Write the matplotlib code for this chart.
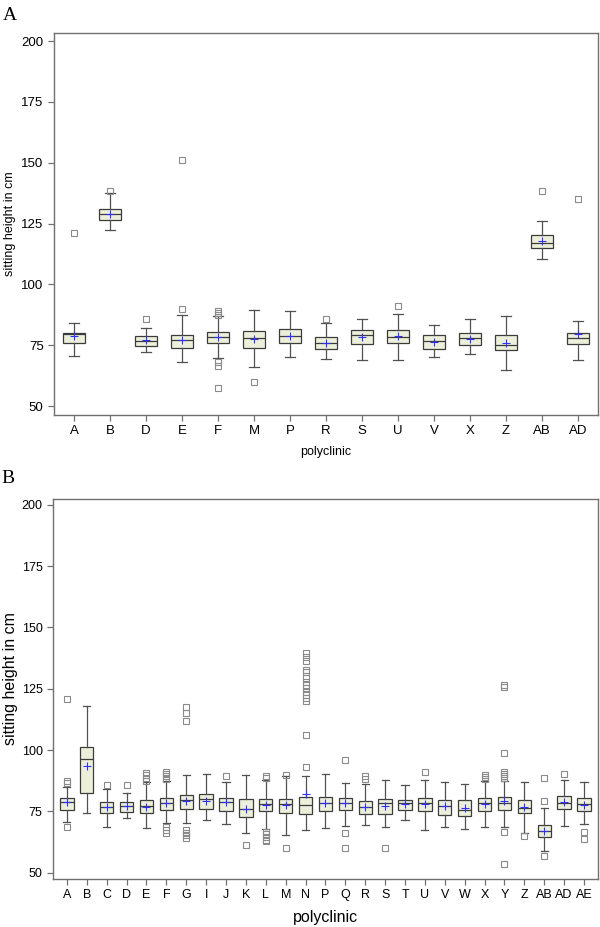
import matplotlib
matplotlib.use('Agg')
import matplotlib.pyplot as plt

# Panel A - polyclinics
cats_a = ['A', 'B', 'D', 'E', 'F', 'M', 'P', 'R', 'S', 'U', 'V', 'X', 'Z', 'AB', 'AD']
q1_a = [75.9, 126.4, 74.6, 73.7, 75.9, 73.8, 75.7, 73.5, 75.3, 75.9, 73.4, 75.0, 73.0, 114.9, 75.3]
med_a = [79.6, 128.8, 76.8, 77.1, 78.3, 77.9, 78.9, 75.9, 79.2, 78.5, 76.8, 77.9, 75.0, 116.9, 78.1]
q3_a = [80.0, 130.9, 78.6, 79.3, 80.4, 80.9, 81.8, 78.2, 81.1, 81.3, 79.0, 80.0, 79.0, 120.2, 80.0]
lo_a = [70.4, 122.4, 72.0, 67.9, 69.8, 66.0, 70.0, 69.4, 68.9, 68.9, 70.3, 71.3, 64.9, 110.4, 68.9]
hi_a = [84.3, 137.4, 81.9, 87.6, 87.1, 89.6, 88.9, 84.3, 85.9, 87.9, 83.3, 85.9, 87.0, 126.2, 84.9]
mean_a = [78.9, 129.0, 77.0, 77.2, 78.3, 77.6, 78.6, 75.9, 78.5, 78.6, 76.5, 77.6, 76.1, 117.7, 79.4]
fliers_a = [
    [120.9],
    [138.3],
    [85.9],
    [90.0, 151.3],
    [89.1, 88.2, 87.5, 68.1, 66.3, 57.3],
    [59.9],
    [],
    [85.7],
    [],
    [90.9],
    [],
    [],
    [],
    [138.3],
    [134.9],
]

# Panel B - polyclinics
cats_b = ['A', 'B', 'C', 'D', 'E', 'F', 'G', 'I', 'J', 'K', 'L', 'M', 'N', 'P',
          'Q', 'R', 'S', 'T', 'U', 'V', 'W', 'X', 'Y', 'Z', 'AB', 'AD', 'AE']
q1_b = [75.7, 82.6, 74.3, 74.9, 74.3, 75.7, 76.0, 76.0, 75.3, 72.6, 75.3, 74.2, 74.1, 75.3,
        75.7, 74.1, 74.1, 75.4, 75.2, 73.4, 73.0, 75.3, 75.7, 74.2, 64.7, 76.1, 75.3]
med_b = [78.7, 96.2, 76.9, 77.2, 77.2, 78.3, 79.6, 79.9, 78.8, 76.1, 78.0, 78.0, 77.6, 78.4,
         78.4, 76.9, 78.2, 78.2, 78.2, 77.2, 75.6, 78.2, 78.4, 76.5, 67.0, 78.3, 77.9]
q3_b = [80.3, 101.1, 78.8, 78.8, 79.5, 80.6, 81.6, 82.2, 80.5, 80.1, 80.2, 80.2, 80.7, 81.0,
        80.5, 79.0, 80.2, 79.8, 80.5, 79.6, 79.6, 80.3, 80.7, 79.5, 69.3, 81.1, 80.5]
lo_b = [70.5, 74.2, 68.4, 72.2, 68.0, 70.3, 70.3, 71.6, 69.7, 66.0, 67.7, 65.2, 67.3, 68.0,
        69.0, 69.4, 68.4, 71.4, 67.3, 68.6, 67.7, 68.6, 68.6, 66.0, 58.7, 69.2, 69.9]
hi_b = [84.8, 118.0, 84.0, 82.4, 87.0, 87.5, 89.8, 90.4, 87.1, 90.0, 87.7, 89.2, 89.3, 90.1,
        86.6, 86.2, 87.9, 85.8, 87.9, 87.1, 86.2, 87.3, 87.5, 87.1, 76.4, 87.9, 87.1]
mean_b = [78.6, 93.5, 76.7, 77.2, 76.9, 78.3, 79.4, 79.4, 78.6, 76.1, 77.5, 77.5, 82.2, 78.4,
          78.2, 76.9, 77.2, 77.9, 77.9, 77.1, 76.5, 77.9, 79.1, 76.8, 67.1, 78.8, 77.7]
fliers_b = [
    [121.0, 87.3, 86.4, 68.4],
    [],
    [85.8],
    [85.9],
    [90.7, 89.7, 88.5, 87.4],
    [91.2, 90.3, 89.2, 88.1, 68.5, 67.3, 66.2],
    [117.7, 114.9, 112.0, 67.4, 66.3, 65.2, 64.1],
    [],
    [89.6],
    [61.2],
    [89.4, 88.5, 66.7, 65.6, 64.6, 63.5, 62.8],
    [89.7, 60.1],
    [139.5, 138.1, 136.1, 132.7, 132.0, 129.3, 127.9, 126.6, 125.2, 123.8, 122.5,
     121.2, 119.8, 106.1, 93.2],
    [],
    [96.1, 66.3, 60.2],
    [89.6, 88.2],
    [60.2],
    [],
    [90.9],
    [],
    [],
    [89.7, 88.9, 88.1],
    [126.4, 125.6, 98.6, 91.1, 90.1, 89.3, 88.4, 66.7, 53.5],
    [65.1],
    [88.5, 79.2, 56.8],
    [90.4],
    [66.5, 63.6],
]

box_fill = '#ecf0da'
edge = '#3c3c3c'
gray = '#707070'


def draw_panel(ax, cats, q1, med, q3, lo, hi, mean, fliers, width, capw,
               tick_fs, label_fs):
    stats = []
    for i in range(len(cats)):
        stats.append({'label': cats[i], 'q1': q1[i], 'med': med[i], 'q3': q3[i],
                      'whislo': lo[i], 'whishi': hi[i], 'mean': mean[i],
                      'fliers': fliers[i]})
    ax.bxp(stats, positions=range(len(cats)), widths=width, capwidths=capw,
           showmeans=True, patch_artist=True,
           boxprops=dict(facecolor=box_fill, edgecolor=edge, linewidth=0.9),
           medianprops=dict(color=edge, linewidth=0.9),
           whiskerprops=dict(color='#505050', linewidth=0.9),
           capprops=dict(color='#505050', linewidth=0.9),
           meanprops=dict(marker='+', markeredgecolor='#3030ff', markersize=6,
                          markeredgewidth=0.8),
           flierprops=dict(marker='s', markerfacecolor='none', markeredgecolor='#8a8a8a',
                           markersize=4.5, markeredgewidth=0.8))
    ax.set_yticks([50, 75, 100, 125, 150, 175, 200])
    for s in ax.spines.values():
        s.set_color(gray)
        s.set_linewidth(1.0)
    ax.tick_params(colors=gray, labelcolor='black', labelsize=tick_fs, length=4, width=0.9)
    ax.set_xlabel('polyclinic', fontsize=label_fs, labelpad=6)
    ax.set_ylabel('sitting height in cm', fontsize=label_fs)


plt.rcParams['font.family'] = ['Liberation Sans', 'DejaVu Sans']
fig = plt.figure(figsize=(6, 9.27), dpi=100)

ax1 = fig.add_axes([0.09, 0.5523, 0.9067, 0.4121])
draw_panel(ax1, cats_a, q1_a, med_a, q3_a, lo_a, hi_a, mean_a, fliers_a,
           0.62, 0.3, 9.5, 9)
ax1.set_xlim(-0.556, 14.556)
ax1.set_ylim(46.3, 203.3)
ax1.yaxis.set_label_coords(-0.07, 0.5)

ax2 = fig.add_axes([0.0883, 0.0518, 0.9083, 0.410])
draw_panel(ax2, cats_b, q1_b, med_b, q3_b, lo_b, hi_b, mean_b, fliers_b,
           0.67, 0.36, 9, 11.5)
ax2.set_xlim(-0.7, 26.7)
ax2.set_ylim(47.4, 202.4)
ax2.yaxis.set_label_coords(-0.064, 0.528)

fig.text(0.004, 0.978, 'A', fontsize=14, family=['Liberation Serif', 'DejaVu Serif'])
fig.text(0.002, 0.479, 'B', fontsize=14, family=['Liberation Serif', 'DejaVu Serif'])

fig.savefig('out.png', dpi=100)
